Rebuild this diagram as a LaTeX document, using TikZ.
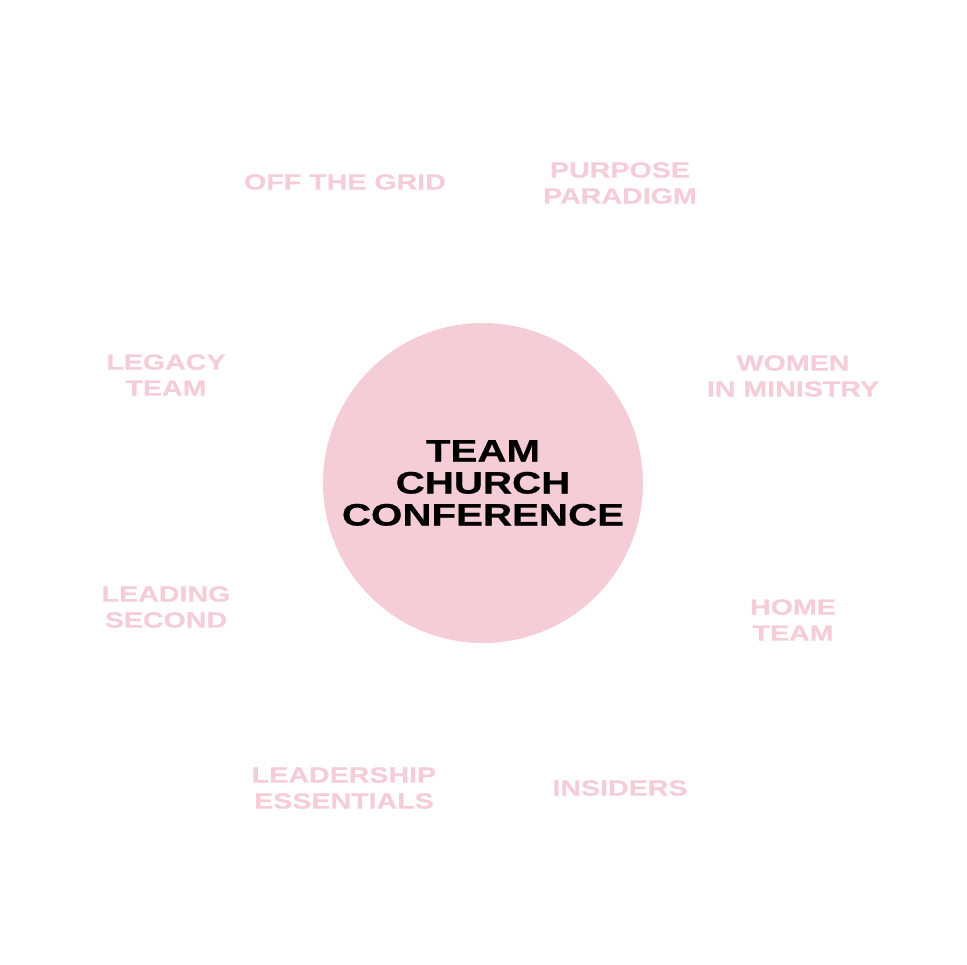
\documentclass[tikz,border=0pt]{standalone}
\usepackage{fontspec}
\setmainfont{Liberation Sans}[FakeStretch=1.3,FakeBold=0.6]
\definecolor{pinkc}{RGB}{245,205,215}
\begin{document}
\begin{tikzpicture}[x=1pt,y=-1pt,
  lbl/.style={text=pinkc,font=\fontsize{22}{26}\selectfont\bfseries,align=center,inner sep=0pt},
  hub/.style={circle,fill=pinkc,minimum size=320pt,inner sep=0pt,align=center,font=\fontsize{31}{32}\selectfont\bfseries}]
\useasboundingbox (0,0) rectangle (967,965);
\node[hub] (c) at (483,483) {TEAM\\CHURCH\\CONFERENCE};
\node[lbl] (a) at (345,182) {OFF THE GRID};
\node[lbl] (b) at (620,183) {PURPOSE\\PARADIGM};
\node[lbl] (d) at (166,375) {LEGACY\\TEAM};
\node[lbl] (e) at (793,376) {WOMEN\\IN MINISTRY};
\node[lbl] (f) at (166,607) {LEADING\\SECOND};
\node[lbl] (g) at (793,620) {HOME\\TEAM};
\node[lbl] (h) at (344,788) {LEADERSHIP\\ESSENTIALS};
\node[lbl] (i) at (620,788) {INSIDERS};
\end{tikzpicture}
\end{document}
